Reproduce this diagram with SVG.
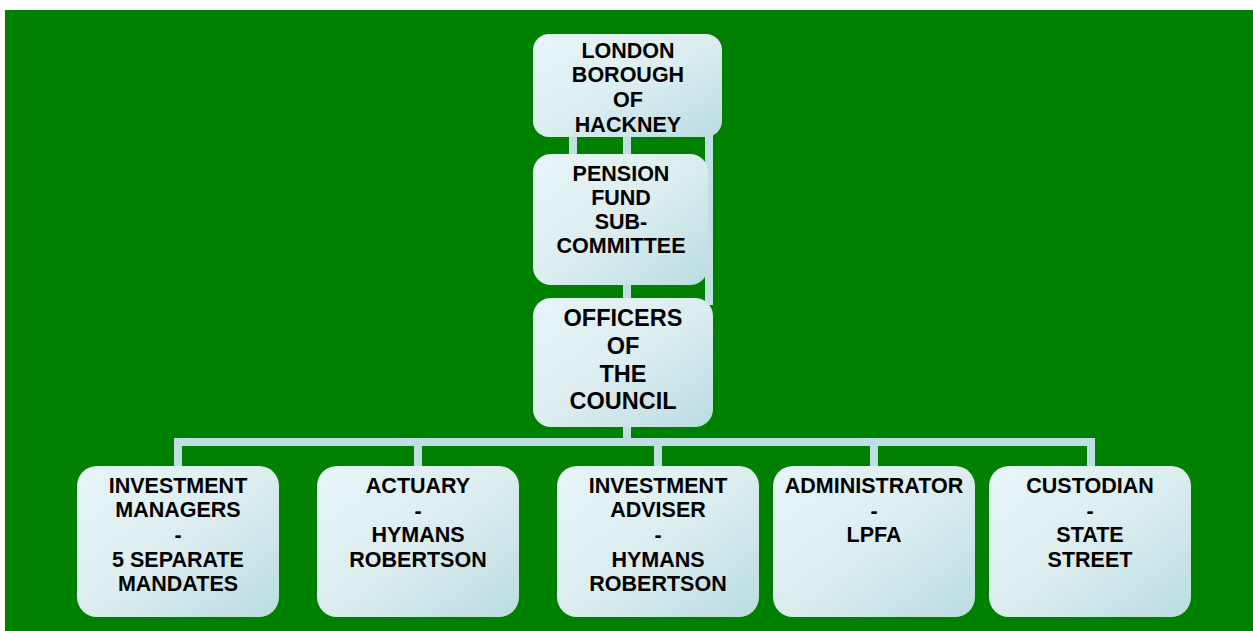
<svg xmlns="http://www.w3.org/2000/svg" width="1253" height="631" viewBox="0 0 1253 631">
  <defs>
    <linearGradient id="boxFill" x1="0" y1="0" x2="1" y2="1">
      <stop offset="0" stop-color="#e7f5f7"/>
      <stop offset="0.5" stop-color="#dcedf0"/>
      <stop offset="1" stop-color="#b9dce0"/>
    </linearGradient>
    <style>
      .box { fill: url(#boxFill); }
      .link { stroke: #bfdfe3; stroke-width: 8; fill: none; stroke-linecap: butt; }
      .label { font-family: "Liberation Sans", Arial, sans-serif; font-weight: bold; font-size: 21.5px; fill: #000; text-anchor: middle; }
      .big { font-size: 23.5px; }
    </style>
  </defs>

  <!-- white page and green panel -->
  <rect x="0" y="0" width="1253" height="631" fill="#ffffff"/>
  <rect x="5" y="10" width="1248" height="621" fill="#008000"/>

  <!-- connectors -->
  <g id="connectors">
    <line class="link" x1="573" y1="130" x2="573" y2="160"/>
    <line class="link" x1="627" y1="130" x2="627" y2="160"/>
    <line class="link" x1="709" y1="130" x2="709" y2="305"/>
    <line class="link" x1="627" y1="280" x2="627" y2="305"/>
    <line class="link" x1="627" y1="420" x2="627" y2="442"/>
    <polyline class="link" points="178,470 178,442 1091,442 1091,470"/>
    <line class="link" x1="418" y1="442" x2="418" y2="470"/>
    <line class="link" x1="658" y1="442" x2="658" y2="470"/>
    <line class="link" x1="874" y1="442" x2="874" y2="470"/>
  </g>

  <!-- top: council -->
  <g id="node-hackney">
    <rect class="box" x="533" y="34" width="189" height="103" rx="16"/>
    <text class="label" x="628" y="58">LONDON</text>
    <text class="label" x="628" y="82">BOROUGH</text>
    <text class="label" x="628" y="107">OF</text>
    <text class="label" x="628" y="132">HACKNEY</text>
  </g>

  <g id="node-subcommittee">
    <rect class="box" x="533" y="154" width="175" height="131" rx="18"/>
    <text class="label" x="621" y="181">PENSION</text>
    <text class="label" x="621" y="205">FUND</text>
    <text class="label" x="621" y="229">SUB-</text>
    <text class="label" x="621" y="253">COMMITTEE</text>
  </g>

  <g id="node-officers">
    <rect class="box" x="533" y="298" width="180" height="129" rx="18"/>
    <text class="label big" x="623" y="326">OFFICERS</text>
    <text class="label big" x="623" y="354">OF</text>
    <text class="label big" x="623" y="382">THE</text>
    <text class="label big" x="623" y="409">COUNCIL</text>
  </g>

  <!-- bottom row: service providers -->
  <g id="node-managers">
    <rect class="box" x="77" y="466" width="202" height="151" rx="20"/>
    <text class="label" x="178" y="493">INVESTMENT</text>
    <text class="label" x="178" y="517">MANAGERS</text>
    <text class="label" x="178" y="542">-</text>
    <text class="label" x="178" y="567">5 SEPARATE</text>
    <text class="label" x="178" y="591">MANDATES</text>
  </g>

  <g id="node-actuary">
    <rect class="box" x="317" y="466" width="202" height="151" rx="20"/>
    <text class="label" x="418" y="493">ACTUARY</text>
    <text class="label" x="418" y="518">-</text>
    <text class="label" x="418" y="542">HYMANS</text>
    <text class="label" x="418" y="567">ROBERTSON</text>
  </g>

  <g id="node-adviser">
    <rect class="box" x="557" y="466" width="202" height="151" rx="20"/>
    <text class="label" x="658" y="493">INVESTMENT</text>
    <text class="label" x="658" y="517">ADVISER</text>
    <text class="label" x="658" y="542">-</text>
    <text class="label" x="658" y="567">HYMANS</text>
    <text class="label" x="658" y="591">ROBERTSON</text>
  </g>

  <g id="node-administrator">
    <rect class="box" x="773" y="466" width="202" height="151" rx="20"/>
    <text class="label" x="874" y="493">ADMINISTRATOR</text>
    <text class="label" x="874" y="518">-</text>
    <text class="label" x="874" y="542">LPFA</text>
  </g>

  <g id="node-custodian">
    <rect class="box" x="989" y="466" width="202" height="151" rx="20"/>
    <text class="label" x="1090" y="493">CUSTODIAN</text>
    <text class="label" x="1090" y="518">-</text>
    <text class="label" x="1090" y="542">STATE</text>
    <text class="label" x="1090" y="567">STREET</text>
  </g>
</svg>
